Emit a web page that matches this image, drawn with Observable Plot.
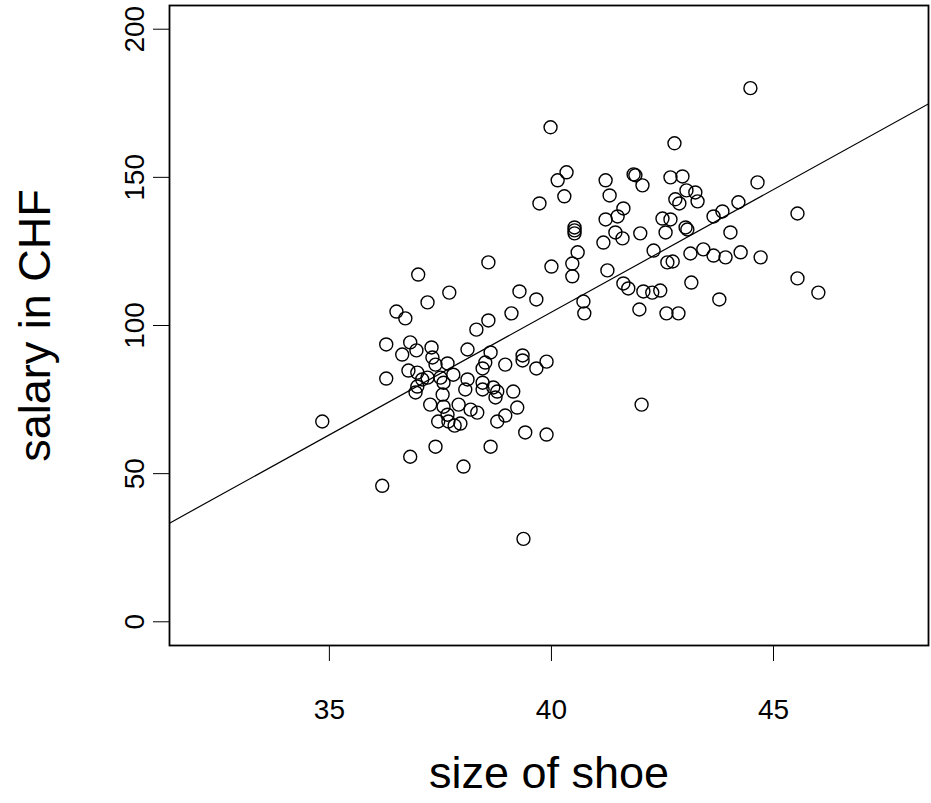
<!DOCTYPE html>
<html><head><meta charset="utf-8">
<script src="https://cdn.jsdelivr.net/npm/d3@7"></script>
<script src="https://cdn.jsdelivr.net/npm/@observablehq/plot@0.6"></script>
<style>body{margin:0;background:#fff} svg{display:block}</style>
</head><body><div id="chart"></div>
<script>
const shoeSize = [
  34.84,36.19,36.28,36.28,36.51,36.71,37.0,37.21,37.70,36.82,36.64,36.96,37.30,37.32,37.66,38.11,
  36.78,36.98,37.21,37.09,36.98,36.94,37.57,37.50,37.79,38.11,38.06,37.55,37.27,37.57,37.91,38.18,38.33,37.66,37.45,37.68,37.95,37.82,37.39,36.82,38.02,37.39,
  38.58,38.58,38.31,38.63,38.51,38.45,38.96,39.35,39.35,39.66,39.89,
  38.45,38.45,38.69,38.78,38.74,39.14,39.23,38.96,38.78,39.41,39.89,38.63,39.37,
  39.10,39.28,39.66,39.73,39.98,40.0,40.14,40.34,40.29,40.47,40.47,40.59,40.52,40.52,40.52,40.72,40.74,
  41.22,41.31,41.22,41.49,41.62,41.44,41.60,41.17,41.26,41.62,41.73,
  41.85,41.89,42.05,42.0,41.98,42.03,42.07,42.27,42.45,42.30,
  42.50,42.68,42.57,42.61,42.73,42.59,42.86,42.77,42.68,42.95,
  43.04,43.24,42.79,42.88,43.29,43.02,43.06,43.15,43.13,43.42,
  43.65,43.65,43.85,43.92,43.78,44.03,44.21,44.26,44.48,44.64,
  44.71,45.54,45.54,46.01
];
const salary = [
  67.6,45.9,93.6,82.1,104.7,102.4,117.2,107.8,111.1,94.3,90.2,91.6,92.6,89.2,87.2,91.9,
  84.8,84.1,82.4,81.8,79.4,77.4,80.7,82.4,83.4,81.8,78.4,76.7,73.3,72.6,73.3,71.6,70.6,69.9,67.6,67.6,66.9,66.2,59.1,55.7,52.4,86.8,
  121.3,101.7,98.6,90.9,87.5,85.5,86.8,89.9,88.2,85.5,87.8,
  80.7,78.4,79.1,77.7,75.7,77.7,72.3,69.6,67.6,63.9,63.2,59.1,28.0,
  104.1,111.5,108.8,141.2,166.9,119.9,149.0,151.7,143.6,120.9,116.6,124.7,133.1,132.1,131.1,108.1,104.1,
  149.0,143.9,135.8,136.8,139.5,131.4,129.4,128.0,118.6,114.2,112.5,
  151.0,150.7,147.3,131.1,105.4,73.3,111.5,111.1,111.8,125.3,
  136.1,135.8,131.4,121.3,121.6,104.1,104.1,161.5,150.0,150.3,
  145.6,144.9,142.6,141.2,141.9,133.1,132.4,114.5,124.3,125.7,
  123.6,136.8,138.5,123.0,108.8,131.4,141.6,124.7,180.1,148.3,
  123.0,137.8,115.9,111.1
];
const xTicks = [35, 40, 45];
const yTicks = [0, 50, 100, 150, 200];
const fitCoef = [-226.7, 8.28]; // intercept, slope of the regression line
const xLabel = "size of shoe";
const yLabel = "salary in CHF";

const xDomain = [31.40, 48.49];
const yDomain = [-8, 208];

const points = shoeSize.map((s, i) => ({shoe: s, salary: salary[i]}));
const fitLine = xDomain.map(x => ({shoe: x, salary: fitCoef[0] + fitCoef[1] * x}));

const font = "'Liberation Sans', Arial, sans-serif";

const chart = Plot.plot({
  width: 931,
  height: 803,
  marginLeft: 169,
  marginRight: 3,
  marginTop: 5,
  marginBottom: 158,
  style: {fontFamily: font, background: "#fff", color: "#000"},
  x: {domain: xDomain},
  y: {domain: yDomain},
  marks: [
    Plot.axisX({ticks: xTicks, tickSize: 16, tickPadding: 38, fontSize: 28, label: null, stroke: "#000", tickFormat: d => String(d)}),
    Plot.axisY({ticks: yTicks, tickSize: 16, tickPadding: 10, tickRotate: -90, fontSize: 28, label: null, stroke: "#000", tickFormat: d => String(d)}),
    Plot.line(fitLine, {x: "shoe", y: "salary", stroke: "#000", strokeWidth: 1.2, clip: true}),
    Plot.dot(points, {x: "shoe", y: "salary", r: 6.5, stroke: "#000", strokeWidth: 1.4, fill: "none"}),
    Plot.frame({stroke: "#000", strokeWidth: 1.8}),
    Plot.text([xLabel], {text: d => d, frameAnchor: "bottom", textAnchor: "middle", dy: 142, fontSize: 45, fill: "#000"}),
    Plot.text([yLabel], {text: d => d, frameAnchor: "left", textAnchor: "middle", dx: -134, rotate: -90, fontSize: 45, fill: "#000"})
  ]
});
document.getElementById("chart").appendChild(chart);
</script>
</body></html>
